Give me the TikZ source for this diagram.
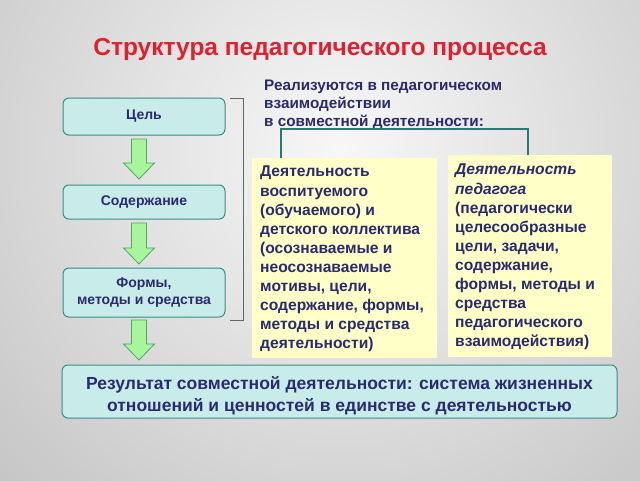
\documentclass[tikz,border=0pt]{standalone}
\usepackage{fontspec}
\setmainfont{Liberation Sans}
\usetikzlibrary{calc}
\definecolor{titlered}{HTML}{E0202E}
\definecolor{navy}{HTML}{2A2A6E}
\definecolor{boxfill}{HTML}{C8ECEA}
\definecolor{boxline}{HTML}{3C8C84}
\definecolor{yel}{HTML}{FFFFC8}
\definecolor{arrfill}{HTML}{A8F59C}
\definecolor{arrline}{HTML}{4CA86A}
\definecolor{teal}{HTML}{2A7A72}
\tikzset{
  stepbox/.style={draw=boxline, fill=boxfill, rounded corners=6pt, line width=1pt,
    text=navy, font=\bfseries\fontsize{14}{17}\selectfont, align=center, inner sep=0pt},
  ytext/.style={text=navy, font=\bfseries\fontsize{15.6}{19.1}\selectfont, align=left, inner sep=0pt, anchor=north west},
  garrow/.style={fill=arrfill, draw=arrline, line width=0.8pt, line join=miter}
}
\newcommand{\downarrowshape}[3]{% center x, top y, tip y
  \draw[garrow] (#1-7.5,#2) -- (#1+7.5,#2) -- (#1+7.5,#3-16) -- (#1+15.5,#3-16) -- (#1,#3)
    -- (#1-15.5,#3-16) -- (#1-7.5,#3-16) -- cycle;}
\begin{document}
\begin{tikzpicture}[x=1pt,y=-1pt]
\useasboundingbox (0,0) rectangle (640,480);
\begin{scope}
\clip (0,0) rectangle (640,480);
\fill[gray!60] (0,0) rectangle (640,480);
\shade[inner color=white!94!gray, outer color=black!40] (340,150) circle (900);
\end{scope}

\node[text=titlered, font=\bfseries\fontsize{24.5}{28}\selectfont] (title) at (320,49) {Структура педагогического процесса};

\node[text=navy, font=\bfseries\fontsize{15.3}{18}\selectfont, align=left, anchor=north west, inner sep=0pt] (real) at (264,80)
  {Реализуются в педагогическом\\взаимодействии\\в совместной деятельности:};

% left boxes
\node[stepbox, minimum width=162pt, minimum height=37pt] (goal) at (144,116.5) {Цель};
\node[stepbox, minimum width=162pt, minimum height=34pt] (cont) at (144,202) {Содержание};
\node[stepbox, minimum width=162pt, minimum height=49pt] (forms) at (144,292.5) {Формы,\\методы и средства};

% gray bracket
\coordinate (bt) at (230,98);
\coordinate (bb) at (230,320);
\draw[gray!80!black, line width=0.8pt] (bt) -- (243,98) -- (243,320) -- (bb);

% teal bracket
\coordinate (tl) at (281,158);
\coordinate (tr) at (528,155);
\draw[teal, line width=1.6pt] (tl) -- (281,129) -- (528,129) -- (tr);

% yellow boxes
\fill[yel] (252,158) rectangle (437,358);
\fill[yel] (448,155) rectangle (612,357);
\node[ytext] (ltext) at (260,166) {Деятельность\\воспитуемого\\(обучаемого) и\\детского коллектива\\(осознаваемые и\\неосознаваемые\\мотивы, цели,\\содержание, формы,\\методы и средства\\деятельности)};
\node[ytext] (rtext) at (455,164) {\textit{Деятельность}\\\textit{педагога}\\(педагогически\\целесообразные\\цели, задачи,\\содержание,\\формы, методы и\\средства\\педагогического\\взаимодействия)};

% result box
\node[stepbox, minimum width=555pt, minimum height=53pt] (res) at (339.5,391.5) {};
\node[text=navy, font=\bfseries\fontsize{17.5}{22}\selectfont, align=center, inner sep=0pt] (restext) at ($(res.center)+(0,4)$)
  {Результат совместной деятельности: система жизненных\\отношений и ценностей в единстве с деятельностью};

% green arrows
\downarrowshape{139}{139}{179}
\downarrowshape{139}{223}{264}
\downarrowshape{139}{320}{360}
\end{tikzpicture}
\end{document}
